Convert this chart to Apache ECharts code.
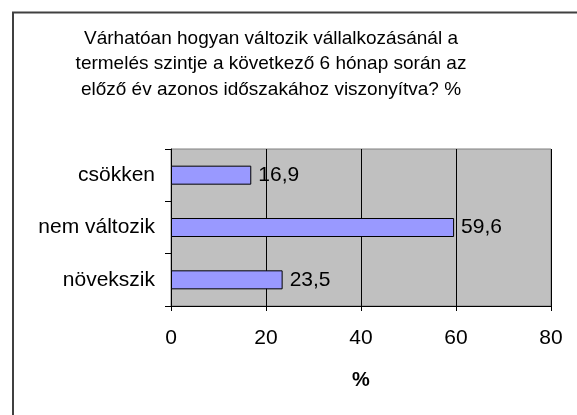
<!DOCTYPE html>
<html>
<head>
<meta charset="utf-8">
<script src="https://cdn.jsdelivr.net/npm/echarts@6/dist/echarts.min.js"></script>
<style>
html,body{margin:0;padding:0;background:#fff;}
#c{width:577px;height:415px;}
</style>
</head>
<body>
<div id="c"></div>
<script>
const titleText = "Várhatóan hogyan változik vállalkozásánál a\ntermelés szintje a következő 6 hónap során az\nelőző év azonos időszakához viszonyítva? %";
const categories = ["csökken", "nem változik", "növekszik"];
const values = [16.9, 59.6, 23.5];
const xTicks = [0, 20, 40, 60, 80];
const xName = "%";

const chart = echarts.init(document.getElementById('c'), null, {renderer: 'canvas'});
const FONT = '"Liberation Sans", Arial, sans-serif';
chart.setOption({
  animation: false,
  backgroundColor: '#ffffff',
  textStyle: {fontFamily: FONT},
  title: {
    text: titleText,
    left: 266,
    top: 21,
    textAlign: 'center',
    textStyle: {fontFamily: FONT, fontSize: 19, fontWeight: 'normal', color: '#000', lineHeight: 25.5}
  },
  graphic: [
    {type: 'polyline', shape: {points: [[13, 430], [13, 12.5], [600, 12.5]]}, style: {stroke: '#404040', lineWidth: 2, fill: null}, z: 10}
  ],
  grid: {
    left: 171, right: 26, top: 149, bottom: 109,
    show: true, backgroundColor: '#c0c0c0', borderColor: '#808080', borderWidth: 1,
    containLabel: false
  },
  xAxis: {
    type: 'value',
    min: xTicks[0], max: xTicks[xTicks.length - 1], interval: 20,
    name: xName,
    nameLocation: 'middle',
    nameGap: 64,
    nameTextStyle: {fontFamily: FONT, fontSize: 20, fontWeight: 'bold', color: '#000'},
    axisLine: {show: true, lineStyle: {color: '#000', width: 1}},
    axisTick: {show: true, length: 5, lineStyle: {color: '#000'}},
    axisLabel: {fontFamily: FONT, fontSize: 21, color: '#000', margin: 22},
    splitLine: {show: true, lineStyle: {color: '#000', width: 1}}
  },
  yAxis: {
    type: 'category',
    data: categories,
    inverse: true,
    axisLine: {show: true, lineStyle: {color: '#000', width: 1}},
    axisTick: {show: true, length: 6, inside: false, alignWithLabel: false, lineStyle: {color: '#000'}},
    axisLabel: {fontFamily: FONT, fontSize: 21, color: '#000', margin: 16},
    splitLine: {show: false}
  },
  series: [{
    type: 'bar',
    data: values,
    barWidth: 19,
    itemStyle: {color: '#9999ff', borderColor: '#000', borderWidth: 1},
    label: {
      show: true, position: 'right', distance: 7,
      fontFamily: FONT, fontSize: 21, color: '#000',
      formatter: p => String(p.value).replace('.', ',')
    }
  }]
});
</script>
</body>
</html>
